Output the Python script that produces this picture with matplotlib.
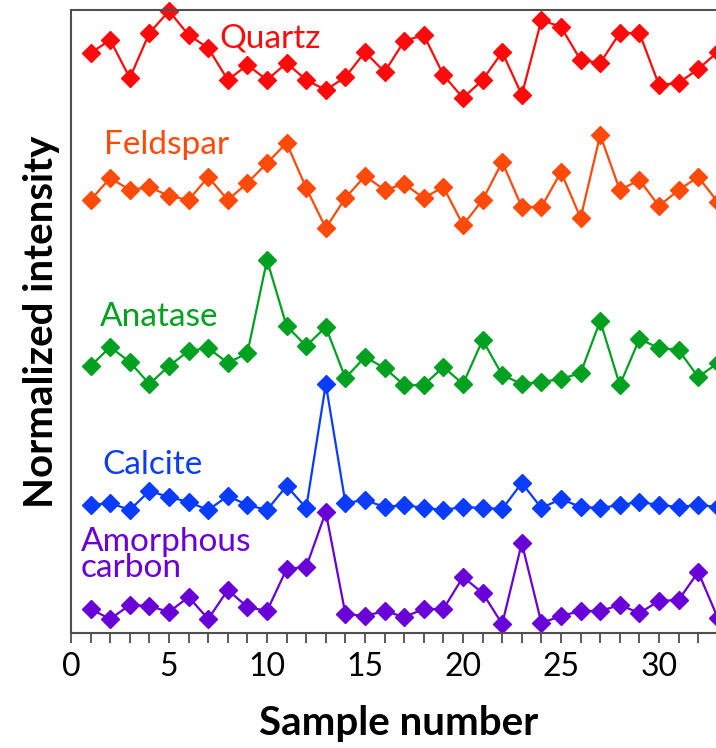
import matplotlib.pyplot as plt
from matplotlib.ticker import MultipleLocator

plt.rcParams['font.family'] = ['Lato', 'DejaVu Sans']

samples = list(range(1, 34))

# normalized intensity, stacked (arbitrary units)
quartz = [580, 593, 555, 600, 622, 598, 585, 553, 568, 553, 570, 553, 543, 556, 581, 561, 592,
          598, 558, 535, 553, 581, 538, 613, 606, 573, 570, 600, 600, 548, 550, 564, 581]
feldspar = [433, 455, 443, 446, 437, 433, 456, 433, 450, 470, 490, 445, 405, 435, 457, 443, 449,
            435, 446, 408, 433, 471, 426, 426, 461, 415, 498, 443, 453, 427, 443, 456, 431]
anatase = [267, 286, 271, 249, 267, 282, 285, 270, 280, 373, 307, 287, 306, 255, 276, 265, 248,
           248, 266, 249, 293, 258, 249, 251, 254, 260, 312, 248, 294, 285, 283, 256, 270]
calcite = [128, 130, 123, 142, 136, 131, 123, 137, 128, 123, 147, 125, 249, 130, 133, 126, 128,
           125, 123, 126, 125, 124, 150, 125, 134, 126, 125, 128, 131, 128, 126, 128, 126]
amorphous = [24, 14, 28, 27, 21, 36, 14, 43, 26, 22, 64, 66, 121, 19, 17, 22, 16,
             24, 24, 56, 40, 9, 90, 10, 17, 22, 22, 28, 20, 32, 33, 61, 15]

names = ['Quartz', 'Feldspar', 'Anatase', 'Calcite', 'Amorphous\ncarbon']
series = [quartz, feldspar, anatase, calcite, amorphous]
colors = ['#FF0A0A', '#FF4A0A', '#00A020', '#0A3CFF', '#6A00D8']
label_pos = [(7.55, 595), (1.7, 488), (1.45, 316), (1.6, 168), (0.5, 78)]

fig = plt.figure(figsize=(7.16, 7.48), dpi=100)
# axes runs past the right edge, like the cropped original
ax = fig.add_axes([71/716, 115/748, 36*19.6/716, 623/748])

for name, ys, c, (lx, ly) in zip(names, series, colors, label_pos):
    ax.plot(samples, ys, '-', color=c, lw=1.6, marker='D', ms=9, mec=c, clip_on=False)
    ax.text(lx, ly, name, color=c, fontsize=24, ha='left', va='center', linespacing=0.85)

ax.set_xlim(0, 36)
ax.set_ylim(0, 623)
ax.xaxis.set_major_locator(MultipleLocator(5))
ax.xaxis.set_minor_locator(MultipleLocator(1))
ax.tick_params(axis='x', which='both', direction='out', length=7, width=1.2, color='#404040',
               labelsize=23, pad=7)
ax.set_yticks([])
ax.set_xticks([0, 5, 10, 15, 20, 25, 30])
for s in ax.spines.values():
    s.set_color('#505050')
    s.set_linewidth(1.5)

fig.text(399/716, 1 - 724/748, 'Sample number', fontsize=29, fontweight='bold',
         ha='center', va='center')
fig.text(42/716, 1 - 322/748, 'Normalized intensity', fontsize=29, fontweight='bold',
         ha='center', va='center', rotation=90)

fig.savefig('out.png', dpi=100)
